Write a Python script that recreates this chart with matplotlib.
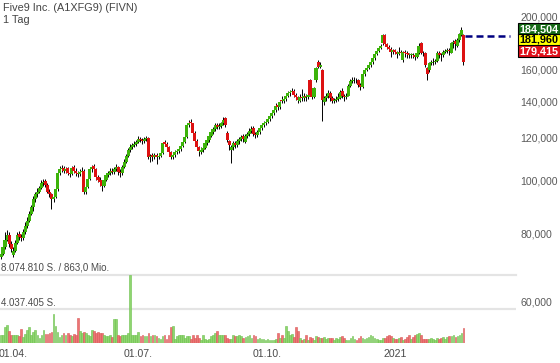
import numpy as np
import matplotlib
matplotlib.use('Agg')
import matplotlib.pyplot as plt
from matplotlib.patches import Rectangle
from matplotlib.ticker import NullLocator

plt.rcParams['font.family'] = ['Liberation Sans', 'DejaVu Sans']

# daily candles, Five9 Inc., end of March 2020 .. Feb 2021
opens = [
    72.5, 73.5, 75.5, 78, 79.5, 76.5, 73, 74.5, 77, 80,
    79, 78.5, 80.5, 82.5, 84.5, 87, 89.5, 92.5, 94.5, 95.5,
    97, 99, 100, 98.5, 95.5, 94.5, 92.5, 93.5, 96.5, 103.5,
    105, 105.5, 104.5, 105.5, 103.5, 103, 106, 104.5, 103.5, 103,
    104, 104.5, 95.5, 97.5, 101, 105, 106.5, 105, 101.5, 100.5,
    99.5, 98, 100.5, 102.5, 103.5, 104.5, 104, 105, 106, 104,
    103.5, 106, 108.5, 111, 114, 115.5, 116.5, 117, 118, 119.5,
    119, 118.5, 119.5, 120, 110.5, 111.5, 110.8, 111.5, 110.5, 111,
    112.5, 118, 117, 115.5, 112.8, 110.5, 111.5, 113, 113.5, 114.5,
    116, 118, 120.5, 126.5, 128.5, 127.5, 122.5, 118.5, 115.5, 113,
    114, 115, 117.5, 119, 121, 123, 124.5, 126.5, 125.5, 126,
    127.5, 130.5, 122.5, 118.5, 114, 115.5, 117.5, 116.5, 118.5, 119.5,
    121, 118, 121, 122, 123.5, 125, 122, 121.5, 123, 125,
    126.5, 127.5, 128.5, 130, 131.5, 133, 135, 138, 136.5, 141,
    140.5, 141.5, 143.5, 145, 145.5, 146.5, 143.8, 142.5, 140.5, 142.5,
    142, 143, 142.5, 153, 144, 142.6, 153, 165, 162, 160,
    139.6, 142, 143.5, 145, 142, 140.5, 140.8, 141.5, 142, 146.5,
    143, 142.5, 143.5, 149.5, 152.5, 153, 153.5, 153, 150, 148.6,
    157, 160, 161.5, 163, 165, 168, 171, 173.5, 175.5, 179,
    185.5, 178.5, 176.5, 175, 172.5, 174, 172.5, 171, 172.5, 166.6,
    172.5, 171.8, 171, 170.3, 170.5, 170, 169, 171.8, 179, 172,
    171.8, 161, 159.6, 164.5, 165, 165.2, 166, 172, 170.5, 170,
    172.5, 173.5, 174, 172, 179, 181, 177, 181.4, 185.5, 185.5,
]
closes = [
    73.5, 75.5, 78, 79.5, 76.5, 75, 74.5, 77, 79.5, 79,
    78.5, 80.5, 82.5, 84.5, 87, 89.5, 92.5, 94.5, 95.5, 97,
    99, 99.5, 98.5, 95.5, 94.5, 92.5, 93.5, 96.5, 103.5, 105,
    105.5, 104.5, 105, 103.5, 103, 105.5, 104.5, 103.5, 103, 104,
    104.5, 95.5, 97.5, 101, 105, 106, 105, 101.5, 100.5, 99.5,
    98, 100.5, 102.5, 103.5, 104.5, 104, 105, 106, 104, 103.5,
    106, 108.5, 111, 114, 115.5, 116.5, 117, 118, 119.5, 119,
    118.5, 119.5, 120, 110.5, 111, 110.8, 111.5, 110.5, 111, 112.5,
    117.5, 117, 115.5, 112.8, 110.5, 111.5, 113, 113.5, 114.5, 116,
    118, 120.5, 126.5, 128, 127.5, 122.5, 118.5, 115.5, 113.5, 114,
    115, 117.5, 119, 121, 123, 124.5, 126.5, 125.5, 126, 127.5,
    129.5, 126.5, 119, 116.5, 115.5, 117.5, 116.5, 118.5, 119.5, 120.5,
    119.5, 121, 122, 123.5, 124.5, 122, 121.5, 123, 125, 126.5,
    127.5, 128.5, 130, 131.5, 133, 135, 137.5, 136.5, 139.5, 140.5,
    141.5, 143.5, 145, 145.5, 146.5, 143.8, 142.5, 141, 142.5, 142,
    143, 142.5, 144, 144, 142.5, 148, 161, 162, 163.3, 141,
    142, 143.5, 145, 142, 140.5, 140.8, 141.5, 142.5, 145.5, 143,
    142.5, 143.5, 149.5, 152.5, 153, 153.5, 153, 150, 149, 157,
    160, 161.5, 163, 165, 168, 171, 173.5, 175.5, 177, 185.5,
    178.5, 176.5, 175, 172.5, 174, 172.5, 171, 172.5, 171.8, 172.5,
    171.8, 171, 170.3, 170.5, 170, 169, 171.8, 177, 172, 171.5,
    163.3, 157.4, 164.5, 165, 165.2, 166, 171.8, 170.5, 170, 172.5,
    173.5, 174, 173.5, 179, 180, 178.5, 181.4, 186, 189.5, 165,
]
highs = [
    75, 77, 80.5, 81.2, 80.5, 77.5, 75.5, 78, 80.5, 81,
    80, 81.5, 84, 86, 88, 90.5, 94, 95.5, 97, 98,
    100.5, 101, 101, 99, 96.5, 95, 94.5, 97, 104.5, 106.5,
    107, 106.5, 106, 106, 104.5, 106.5, 107, 105.5, 104.5, 105,
    106, 105, 98.5, 102, 106, 107, 107.5, 105.5, 102.5, 101.5,
    100, 101.5, 103.5, 104.5, 105.5, 105.5, 106, 107.5, 106.5, 105,
    107, 109.5, 112, 115, 117, 117.5, 118.5, 119, 121, 120.5,
    120, 120.5, 121, 120.5, 112, 112.5, 112.5, 112.5, 112, 113.5,
    118, 119, 118, 116, 113.5, 112.5, 114, 114.5, 115.5, 117,
    119, 121.5, 127.5, 129.5, 130, 128, 123.5, 119.5, 116, 115.5,
    116, 118.5, 120, 122, 124, 125.5, 127.5, 128, 127.5, 128.5,
    131, 131, 123.5, 119, 116.5, 118.5, 118.5, 119.5, 120.5, 121.5,
    122, 122, 123, 125, 126, 126, 123, 124, 126, 127.5,
    129, 130, 131, 133, 134.5, 136.5, 139, 139.5, 140.5, 143,
    142.5, 145, 146.5, 147, 148, 147.5, 145, 143.5, 144.5, 147.5,
    145, 144.5, 146, 154, 145, 149, 162, 166.5, 165, 160.5,
    143, 145, 147, 146, 143.5, 142, 143.5, 145, 147, 148,
    144.5, 145, 150.5, 154, 155.5, 155, 154.5, 154, 151, 158,
    161, 163, 164.5, 166.5, 169, 172, 174.5, 177, 178.5, 186.5,
    186, 179.5, 177.5, 176, 175, 175, 173.5, 176, 174, 173.5,
    174, 173, 172, 172, 171.5, 171, 173, 179, 180, 173.5,
    172.5, 162, 165.5, 166.5, 168, 167.5, 173, 173.5, 172, 174,
    175, 175.5, 175.5, 180, 181.5, 182, 183, 187, 192, 186.5,
]
lows = [
    72, 73, 75, 77.5, 75.5, 74, 72.5, 74, 76.5, 78,
    77.5, 78, 80, 82, 84, 86.5, 88, 91.5, 93.5, 95,
    96.5, 98, 97.5, 95, 93.5, 89, 91.5, 93, 96, 102.5,
    104, 103.5, 103.5, 102.5, 101.5, 102.5, 103.5, 102, 101.5, 102,
    103, 94.5, 94.5, 97, 100.5, 104, 104, 100.5, 99.5, 98,
    96, 97.5, 100, 101.5, 102.5, 103, 103, 104.5, 102.5, 101.5,
    102.5, 105.5, 108, 110.5, 113, 114.5, 115.5, 116, 117.5, 118,
    117, 117.5, 118.5, 109.5, 108.5, 109, 109.5, 107.5, 109.5, 110.5,
    112, 116, 114.5, 111.5, 109.5, 109.5, 110.5, 112, 112.5, 113.5,
    115.5, 117.5, 120, 125.5, 126, 121.5, 117.5, 114.5, 111, 112,
    113, 114.5, 116.5, 118, 120.5, 122, 123.5, 124.5, 124.5, 125,
    126.5, 125.5, 118, 114, 108, 114, 115, 115.5, 117, 118.5,
    118, 117.5, 120, 121, 122.5, 121, 120, 120.5, 122, 124,
    125.5, 126.5, 127.5, 129, 130.5, 132, 134, 135, 135.5, 139,
    139, 140.5, 142.5, 143.5, 144.5, 142.5, 141, 139, 139.5, 140.5,
    140.5, 140.5, 141.5, 143, 141.5, 142, 152, 161, 161, 129,
    138, 140.5, 142, 140.5, 139, 139, 139.5, 140.5, 141.5, 142,
    140.5, 141.5, 143, 148.5, 151, 151.5, 151.5, 149, 147, 148,
    156, 159, 160.5, 162, 164, 167, 170, 172.5, 174.5, 178,
    177.5, 175, 173.5, 169, 171, 171, 168, 170, 169.5, 165.5,
    169, 168.5, 168.5, 168.5, 168, 167, 168.5, 171, 171, 169.5,
    162, 153.5, 158.5, 163, 163.5, 164, 165.5, 168, 166, 169,
    171.5, 172, 170, 171.5, 175.5, 174, 176, 180, 184.5, 163.5,
]
# volume in million shares
volumes = [
    0.95, 0.9, 1.9, 2.1, 1.4, 1.0, 0.9, 0.95, 0.9, 0.8,
    1.7, 0.7, 1.1, 1.6, 1.9, 0.9, 1.3, 1.5, 0.9, 0.6,
    0.9, 1.5, 1.1, 1.1, 1.2, 1.3, 3.5, 2.0, 1.3, 0.7,
    1.0, 1.2, 1.0, 1.2, 0.9, 0.8, 1.1, 0.9, 3.0, 1.4,
    1.2, 1.3, 1.2, 1.0, 0.8, 1.5, 1.4, 1.2, 1.3, 1.2,
    1.2, 1.0, 0.8, 0.8, 1.0, 0.7, 2.9, 2.8, 1.0, 0.8,
    0.9, 1.0, 1.0, 1.2, 8.07, 1.0, 0.9, 1.0, 1.3, 0.8,
    1.0, 0.8, 0.8, 1.2, 0.8, 0.9, 0.9, 0.8, 0.6, 0.5,
    0.8, 1.0, 0.5, 0.9, 1.9, 2.0, 0.5, 0.8, 1.0, 1.0,
    1.0, 0.6, 0.8, 0.8, 0.5, 0.9, 0.6, 1.0, 0.6, 0.4,
    1.0, 0.5, 0.3, 0.5, 0.8, 1.0, 1.2, 1.4, 0.9, 0.9,
    1.0, 1.0, 0.6, 0.5, 0.5, 0.9, 0.8, 0.8, 1.0, 0.8,
    0.6, 0.7, 0.8, 1.0, 0.6, 1.0, 0.8, 0.5, 0.6, 0.5,
    0.5, 0.4, 0.5, 0.3, 0.3, 0.3, 0.5, 1.2, 0.6, 1.0,
    0.6, 2.0, 1.4, 1.0, 1.1, 0.7, 1.9, 1.4, 0.6, 0.4,
    0.5, 0.9, 0.4, 0.7, 0.6, 0.4, 0.8, 0.7, 0.6, 0.6,
    0.7, 0.5, 0.6, 0.6, 0.6, 0.4, 0.6, 0.5, 0.7, 0.8,
    0.6, 0.4, 0.4, 0.6, 0.8, 0.5, 0.4, 0.6, 0.8, 0.6,
    0.5, 0.6, 0.7, 0.9, 0.8, 0.6, 0.5, 0.4, 0.4, 0.6,
    0.6, 0.8, 0.9, 0.8, 0.6, 0.5, 0.5, 0.6, 0.7, 0.4,
    0.5, 0.7, 0.9, 0.5, 0.7, 0.9, 1.1, 1.2, 1.0, 0.5,
    0.5, 0.5, 0.5, 0.6, 0.5, 0.4, 0.6, 0.5, 0.6, 0.7,
    0.5, 0.7, 0.8, 0.8, 1.0, 0.7, 0.8, 0.9, 1.2, 1.75,
]
vol_max = 8074810

x_tick_pos = [6, 68, 132, 195]
x_tick_labels = ['01.04.', '01.07.', '01.10.', '2021']
y_ticks = [60, 80, 100, 120, 140, 160, 200]
y_tick_labels = ['60,000', '80,000', '100,000', '120,000', '140,000', '160,000', '200,000']

tag_texts = ['184,504', '181,960', '179,415']
tag_colors = ['#176b17', '#ffff00', '#e0101a']
tag_text_colors = ['white', 'black', 'white']
ref_price = 184.504

o = np.array(opens)
c = np.array(closes)
h = np.array(highs)
l = np.array(lows)
v = np.array(volumes) * 1e6
x = np.arange(len(c))
up = c >= o

W, H = 560, 363
fig = plt.figure(figsize=(W / 100, H / 100), dpi=100)

# volume panel in the bottom of the price panel
ax_v = fig.add_axes([0, 20 / H, 516 / W, 68 / H])
ax_v.bar(x, v, width=0.85, color=np.where(up, '#8fd56f', '#ec7474'),
         edgecolor=np.where(up, '#6cc04c', '#d95555'), linewidth=0.4, zorder=2)
ax_v.axhline(vol_max, color='#e4e4e4', lw=1.6, zorder=1, clip_on=False)
ax_v.axhline(vol_max / 2, color='#e4e4e4', lw=1.6, zorder=1)
ax_v.set_ylim(0, vol_max)
ax_v.set_xlim(-0.5, 255)
ax_v.axis('off')

ax = fig.add_axes([0, 20 / H, 516 / W, 343 / H])
ax.patch.set_alpha(0)
ax.set_yscale('log')
ax.set_ylim(50.4, 214.9)
ax.set_xlim(-0.5, 255)

ax.vlines(x, l, h, color='black', lw=0.7, zorder=3)
body_lo = np.minimum(o, c)
body_h = np.maximum(np.abs(c - o), 0.45)
ax.bar(x, body_h, bottom=body_lo, width=1.55,
       color=np.where(up, '#3cb30a', '#dd1111'), linewidth=0, zorder=4)

ax.hlines(ref_price, len(c) - 0.3, 252, color='#000080', lw=1.8,
          linestyles=(0, (2.8, 1.6)), zorder=5)

for s in ax.spines.values():
    s.set_visible(False)
ax.yaxis.tick_right()
ax.yaxis.set_minor_locator(NullLocator())
ax.set_yticks(y_ticks)
ax.set_yticklabels(y_tick_labels)
ax.set_xticks(x_tick_pos)
ax.set_xticklabels(x_tick_labels)
ax.tick_params(axis='y', length=0, pad=3, labelsize=7.6, labelcolor='#5a5a5a')
ax.tick_params(axis='x', length=0, pad=4, labelsize=7.6, labelcolor='#4a4a4a')

# price tags at the right
box_tops = [23, 34, 45]
for t, bc, tc, top in zip(tag_texts, tag_colors, tag_text_colors, box_tops):
    fig.patches.append(Rectangle((518 / W, 1 - (top + 11.5) / H), 42 / W, 11.5 / H,
                                 transform=fig.transFigure, facecolor=bc,
                                 edgecolor='black', lw=0.8, zorder=6))
    fig.text(539 / W, 1 - (top + 6) / H, t, ha='center', va='center',
             color=tc, fontsize=7.8, fontweight='bold', zorder=7)

fig.text(3 / W, 1 - 8 / H, 'Five9 Inc. (A1XFG9) (FIVN)', ha='left', va='center',
         fontsize=7.8, color='#444444')
fig.text(3 / W, 1 - 20 / H, '1 Tag', ha='left', va='center',
         fontsize=7.8, color='#444444')
fig.text(1 / W, 1 - 268 / H, '8.074.810 S. / 863,0 Mio.', ha='left', va='center',
         fontsize=7, color='#4a4a4a')
fig.text(1 / W, 1 - 302.5 / H, '4.037.405 S.', ha='left', va='center',
         fontsize=7, color='#4a4a4a')

fig.savefig('out.png', dpi=100)
